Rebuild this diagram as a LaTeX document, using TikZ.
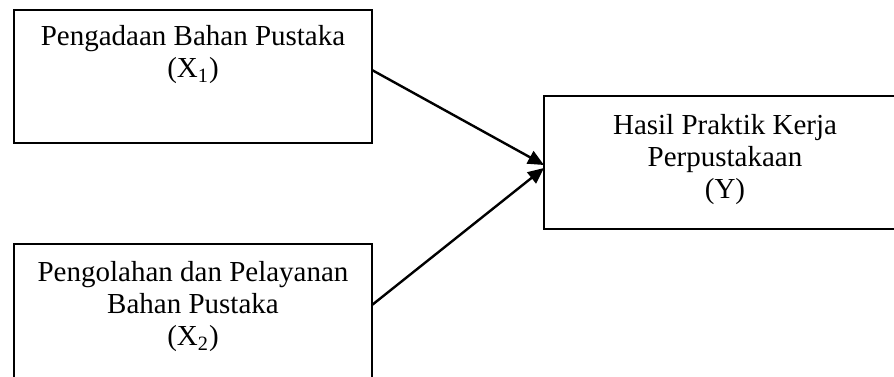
\documentclass[tikz,border=0pt]{standalone}
\usepackage{fontspec}
\setmainfont{Liberation Serif}
\usetikzlibrary{arrows.meta}
\tikzset{
  boxnode/.style={draw, line width=0.8pt, inner sep=0pt, outer sep=0pt},
  txt/.style={align=center, inner sep=0pt, font=\fontsize{14.5pt}{16pt}\selectfont},
  arr/.style={line width=1.2pt, -{Triangle[length=8pt,width=7pt]}}
}
\begin{document}
\begin{tikzpicture}[x=0.5pt,y=-0.5pt]
\useasboundingbox (0,0) rectangle (894,376);
\clip (0,0) rectangle (894,376);
\node[boxnode, minimum width=179pt, minimum height=66.5pt] (b1) at (193,76.5) {};
\node[boxnode, minimum width=179pt, minimum height=73pt] (b2) at (193,317) {};
\node[boxnode, minimum width=183pt, minimum height=66.5pt] (by) at (727,162.5) {};
\node[txt] (t1) at (193,55) {Pengadaan Bahan Pustaka\\(X\textsubscript{1})};
\node[txt] (t2) at (193,307) {Pengolahan dan Pelayanan\\Bahan Pustaka\\(X\textsubscript{2})};
\node[txt] (ty) at (725,160) {Hasil Praktik Kerja\\Perpustakaan\\(Y)};
\draw[arr] ([yshift=3.25pt]b1.east) -- ([yshift=-1.25pt]by.west);
\draw[arr] ([yshift=6pt]b2.east) -- ([yshift=-2.75pt]by.west);
\end{tikzpicture}
\end{document}
